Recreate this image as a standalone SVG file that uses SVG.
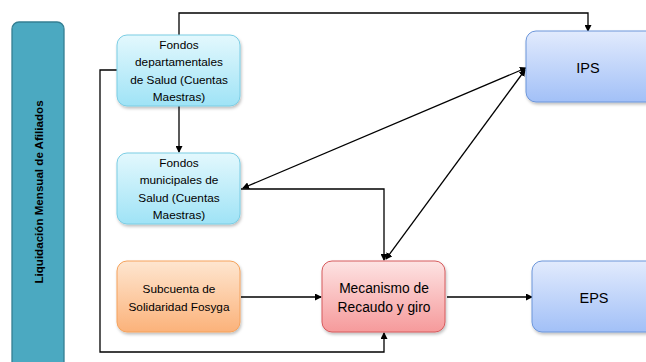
<svg xmlns="http://www.w3.org/2000/svg" width="646" height="362" viewBox="0 0 646 362">
<style>
text{font-family:"Liberation Sans","Noto Sans",Arial,sans-serif;fill:#000;text-anchor:middle}
.s{font-size:11.8px}
.m{font-size:13.8px}
.c{fill:none;stroke:#000;stroke-width:1.3}
</style>
<defs>
<linearGradient id="gc" x1="0" y1="0" x2="0" y2="1"><stop offset="0" stop-color="#E3F8FD"/><stop offset="1" stop-color="#9FE3F6"/></linearGradient>
<linearGradient id="go" x1="0" y1="0" x2="0" y2="1"><stop offset="0" stop-color="#FEE6D0"/><stop offset="1" stop-color="#FBB27A"/></linearGradient>
<linearGradient id="gr" x1="0" y1="0" x2="0" y2="1"><stop offset="0" stop-color="#FDE3E3"/><stop offset="1" stop-color="#F69A9B"/></linearGradient>
<linearGradient id="gb" x1="0" y1="0" x2="0" y2="1"><stop offset="0" stop-color="#E2EBFD"/><stop offset="1" stop-color="#A2C0F7"/></linearGradient>
<filter id="sh" x="-10%" y="-10%" width="130%" height="140%"><feDropShadow dx="1" dy="2" stdDeviation="1.5" flood-color="#000" flood-opacity="0.25"/></filter>
<marker id="a" markerWidth="7" markerHeight="7" refX="6" refY="3.5" orient="auto" markerUnits="userSpaceOnUse"><path d="M0,0 L7,3.5 L0,7 z" fill="#000"/></marker>
<marker id="as" markerWidth="7" markerHeight="7" refX="1" refY="3.5" orient="auto" markerUnits="userSpaceOnUse"><path d="M7,0 L0,3.5 L7,7 z" fill="#000"/></marker>
</defs>
<rect width="646" height="362" fill="#fff"/>
<g id="bar">
<rect x="12" y="22" width="52" height="350" rx="7" fill="#4BA9C1" stroke="#347F93" stroke-width="1.3"/>
<text transform="translate(43,192) rotate(-90)" style="font-size:11.6px;font-weight:bold">Liquidación Mensual de Afiliados</text>
</g>
<g id="connectors">
<polyline class="c" points="179,35 179,13 588,13 588,31" marker-end="url(#a)"/>
<line class="c" x1="179" y1="106" x2="179" y2="152" marker-end="url(#a)"/>
<polyline class="c" points="117,70 100,70 100,352 384,352 384,333" marker-end="url(#a)"/>
<line class="c" x1="243" y1="188" x2="526" y2="68" marker-start="url(#as)" marker-end="url(#a)"/>
<polyline class="c" points="241,189 384,189 384,260" marker-end="url(#a)"/>
<line class="c" x1="386" y1="259" x2="525" y2="70" marker-start="url(#as)" marker-end="url(#a)"/>
<line class="c" x1="241" y1="297" x2="321" y2="297" marker-end="url(#a)"/>
<line class="c" x1="447" y1="297" x2="532" y2="297" marker-end="url(#a)"/>
</g>
<g id="fondos-dep">
<rect x="117" y="35" width="123" height="71" rx="10" fill="url(#gc)" stroke="#7ACDE4" filter="url(#sh)"/>
<text class="s" x="179" y="49">Fondos</text>
<text class="s" x="179" y="66">departamentales</text>
<text class="s" x="179" y="84">de Salud (Cuentas</text>
<text class="s" x="179" y="101">Maestras)</text>
</g>
<g id="fondos-mun">
<rect x="117" y="153" width="123" height="71" rx="10" fill="url(#gc)" stroke="#7ACDE4" filter="url(#sh)"/>
<text class="s" x="179" y="167">Fondos</text>
<text class="s" x="179" y="184">municipales de</text>
<text class="s" x="179" y="202">Salud (Cuentas</text>
<text class="s" x="179" y="219">Maestras)</text>
</g>
<g id="subcuenta">
<rect x="117" y="261" width="123" height="71" rx="10" fill="url(#go)" stroke="#F5A25C" filter="url(#sh)"/>
<text class="s" x="179" y="293">Subcuenta de</text>
<text class="s" x="179" y="311">Solidaridad Fosyga</text>
</g>
<g id="mecanismo">
<rect x="322" y="261" width="123" height="71" rx="10" fill="url(#gr)" stroke="#D65A5C" filter="url(#sh)"/>
<text class="m" x="384" y="293">Mecanismo de</text>
<text class="m" x="384" y="312">Recaudo y giro</text>
</g>
<g id="ips">
<rect x="526" y="31" width="130" height="71" rx="10" fill="url(#gb)" stroke="#6C96DA" filter="url(#sh)"/>
<text x="588" y="73" style="font-size:14.5px">IPS</text>
</g>
<g id="eps">
<rect x="532" y="261" width="124" height="71" rx="10" fill="url(#gb)" stroke="#6C96DA" filter="url(#sh)"/>
<text x="594" y="303" style="font-size:14.5px">EPS</text>
</g>
</svg>
